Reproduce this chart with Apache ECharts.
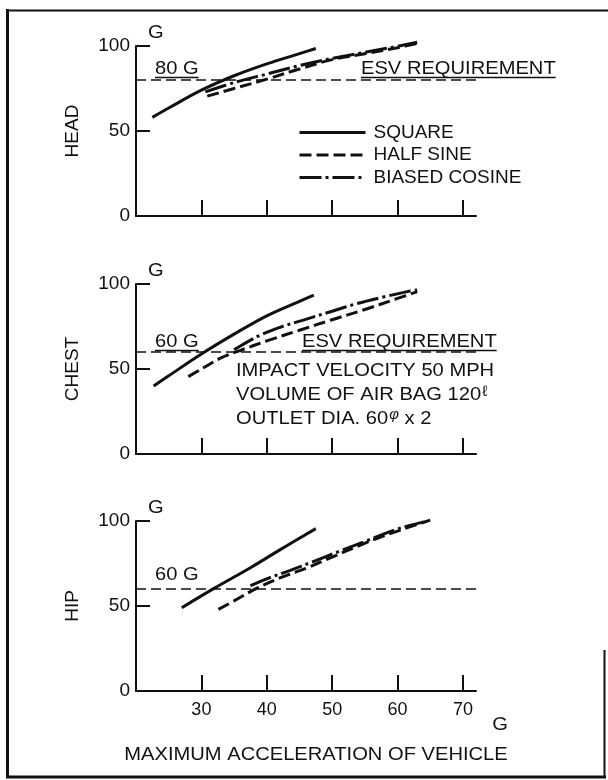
<!DOCTYPE html>
<html>
<head>
<meta charset="utf-8">
<script src="https://cdn.jsdelivr.net/npm/echarts@6/dist/echarts.min.js"></script>
<style>
html,body{margin:0;padding:0;background:#fff;}
#c{width:608px;height:780px;}
</style>
</head>
<body>
<div id="c"></div>
<script>
// ---------------- data ----------------
const xTicks = [30, 40, 50, 60, 70];
const panelNames = ['HEAD', 'CHEST', 'HIP'];
const seriesNames = ['SQUARE', 'HALF SINE', 'BIASED COSINE'];
const requirementG = [80, 60, 60];

const headSquare       = [[22.5,58],[25,63.5],[30,74],[35,82.5],[40,89.5],[45,95.5],[47.5,98.5]];
const headHalfSine     = [[30.9,70.5],[35,75],[40,80.5],[45,86.5],[50,92],[55,95.5],[60,99],[63,101.5]];
const headBiasedCosine = [[30.6,73],[35,78.5],[40,83.5],[45,88.5],[50,92.7],[55,96.3],[60,99.8],[63,102.2]];

const chestSquare       = [[22.7,40],[25,46],[30,58.8],[35,70.5],[40,81.3],[45,89.8],[47.2,93.5]];
const chestHalfSine     = [[28,45.5],[30,50],[33,56.5],[36,61],[40,66.5],[45,72.8],[50,79],[55,85],[60,91.5],[63,95.5]];
const chestBiasedCosine = [[35,61.3],[38.5,69],[42,74.5],[46.2,79.5],[50,84],[53.8,88.5],[58,92.5],[61.5,95.5],[63,96.5]];

const hipSquare       = [[27,49],[32,60.5],[37.5,72.5],[42,83],[47.5,95.5]];
const hipHalfSine     = [[32.6,48],[35,53],[38.5,60.5],[42,66.5],[46.2,72.5],[50,78.8],[53.8,85],[57,90],[60.5,94.7],[63,98],[65,100.5]];
const hipBiasedCosine = [[37.5,62],[40,66],[43.6,71],[47,76],[51.3,82.5],[55,88],[59.4,94.5],[62,97.5],[64,99.5]];

const panelSeries = [
  [headSquare, headHalfSine, headBiasedCosine],
  [chestSquare, chestHalfSine, chestBiasedCosine],
  [hipSquare, hipHalfSine, hipBiasedCosine]
];

// ---------------- styling / layout ----------------
const FONT = "'Liberation Sans', Arial, sans-serif";
const INK = '#111';
const gridLeft = 136, gridWidth = 340, gridH = 170;
const gridTops = [46, 284, 521];
const lineTypes = ['solid', [12, 5], [22, 4, 3, 4]];
const SX = 1.06; // horizontal stretch of the printed lettering

const cv = document.createElement('canvas').getContext('2d');
function textW(t, size) { cv.font = size + "px 'Liberation Sans', Arial, sans-serif"; return cv.measureText(t).width; }

const chart = echarts.init(document.getElementById('c'), null, { renderer: 'canvas' });

const series = [];
panelSeries.forEach((arr, i) => {
  arr.forEach((data, k) => {
    const s = {
      type: 'line', name: seriesNames[k], xAxisIndex: i, yAxisIndex: i,
      data: data, smooth: 0.35, symbol: 'none', showSymbol: false, clip: false,
      silent: true, z: 3,
      lineStyle: { color: INK, width: 3, type: lineTypes[k] },
      itemStyle: { color: INK },
      emphasis: { disabled: true }
    };
    if (k === 0) {
      s.markLine = {
        silent: true, symbol: ['none', 'none'], label: { show: false },
        lineStyle: { color: INK, width: 1.5, type: [10, 5] },
        emphasis: { disabled: true },
        data: [{ yAxis: requirementG[i] }]
      };
    }
    series.push(s);
  });
});

const txt = (x, y, text, style) => ({
  type: 'text', x: x, y: y, scaleX: SX, silent: true,
  style: Object.assign({ text: text, font: "19px 'Liberation Sans', Arial, sans-serif", fill: INK,
    align: 'left', verticalAlign: 'middle' }, style || {})
});
const hline = (x1, x2, y, w) => ({ type: 'line', silent: true,
  shape: { x1: x1, y1: y, x2: x2, y2: y }, style: { stroke: INK, lineWidth: w || 1.3 } });

const graphics = [];
// frame
graphics.push({ type: 'line', silent: true, shape: { x1: 7.5, y1: 9, x2: 7.5, y2: 778 }, style: { stroke: INK, lineWidth: 3 } });
graphics.push({ type: 'line', silent: true, shape: { x1: 6, y1: 10.5, x2: 608, y2: 10.5 }, style: { stroke: INK, lineWidth: 2 } });
graphics.push({ type: 'line', silent: true, shape: { x1: 6, y1: 777, x2: 606, y2: 777 }, style: { stroke: INK, lineWidth: 3 } });
graphics.push({ type: 'line', silent: true, shape: { x1: 604.5, y1: 650, x2: 604.5, y2: 778 }, style: { stroke: INK, lineWidth: 2 } });

// "G" unit at top of each y axis
gridTops.forEach(t => graphics.push(txt(148, t - 13, 'G')));

// requirement annotations
const annotations = [
  { text: '80 G', x: 155, y: 69, ul: true },
  { text: 'ESV REQUIREMENT', x: 361, y: 69, ul: true },
  { text: '60 G', x: 155, y: 342, ul: true },
  { text: 'ESV REQUIREMENT', x: 302, y: 342, ul: true },
  { text: '60 G', x: 155, y: 575, ul: false }
];
annotations.forEach(a => {
  graphics.push(txt(a.x, a.y, a.text));
  if (a.ul) graphics.push(hline(a.x, a.x + SX * textW(a.text, 19), a.y + 8.5, 1.3));
});

// test conditions note
const rich = {
  n: { fontSize: 19, fontFamily: FONT, fill: INK, color: INK },
  s: { fontSize: 15, fontFamily: FONT, fill: INK, color: INK, padding: [0, 0, 7, 1] },
  p: { fontSize: 14, fontFamily: FONT, fontStyle: 'italic', fill: INK, color: INK, padding: [0, 0, 8, 1] }
};
graphics.push(txt(236, 371, 'IMPACT VELOCITY 50 MPH'));
graphics.push(txt(236, 395, '{n|VOLUME OF AIR BAG 120}{s|ℓ}', { rich: rich }));
graphics.push(txt(236, 419, '{n|OUTLET DIA. 60}{p|φ}{n| x 2}', { rich: rich }));

// bottom axis unit and title
graphics.push(txt(500, 725, 'G', { align: 'center' }));
graphics.push(txt(316, 755, 'MAXIMUM ACCELERATION OF VEHICLE', { align: 'center' }));

const option = {
  animation: false,
  backgroundColor: '#fff',
  textStyle: { fontFamily: FONT, color: INK },
  grid: gridTops.map(t => ({ left: gridLeft, top: t, width: gridWidth, height: gridH, containLabel: false, outerBoundsMode: 'none' })),
  legend: {
    orient: 'vertical', left: 298, top: 123, padding: 0,
    itemWidth: 66, itemHeight: 14, itemGap: 3.5,
    selectedMode: false,
    data: seriesNames,
    itemStyle: { opacity: 0 },
    lineStyle: { width: 3, color: INK },
    textStyle: { fontSize: 19, color: INK, fontFamily: FONT, padding: [0, 0, 0, 3], lineHeight: 19 }
  },
  xAxis: [0, 1, 2].map(i => ({
    gridIndex: i, type: 'value', min: 20, max: 72,
    axisLine: { show: true, onZero: false, lineStyle: { color: INK, width: 2 } },
    axisTick: { show: true, inside: true, length: 16, customValues: xTicks, lineStyle: { color: INK, width: 2 } },
    axisLabel: { show: i === 2, customValues: xTicks, margin: 10, fontSize: 18, color: INK, fontFamily: FONT },
    splitLine: { show: false }
  })),
  yAxis: [0, 1, 2].map(i => ({
    gridIndex: i, type: 'value', min: 0, max: 100, interval: 50,
    axisLine: { show: true, onZero: false, lineStyle: { color: INK, width: 2 } },
    axisTick: { show: true, inside: true, length: 14, lineStyle: { color: INK, width: 2 } },
    axisLabel: { margin: 6, fontSize: 19, color: INK, fontFamily: FONT },
    splitLine: { show: false },
    name: panelNames[i], nameLocation: 'middle', nameRotate: 90, nameGap: 54, nameMoveOverlap: false,
    nameTextStyle: { fontSize: 19, color: INK, fontFamily: FONT }
  })),
  series: series,
  graphic: graphics
};
chart.setOption(option);
</script>
</body>
</html>
